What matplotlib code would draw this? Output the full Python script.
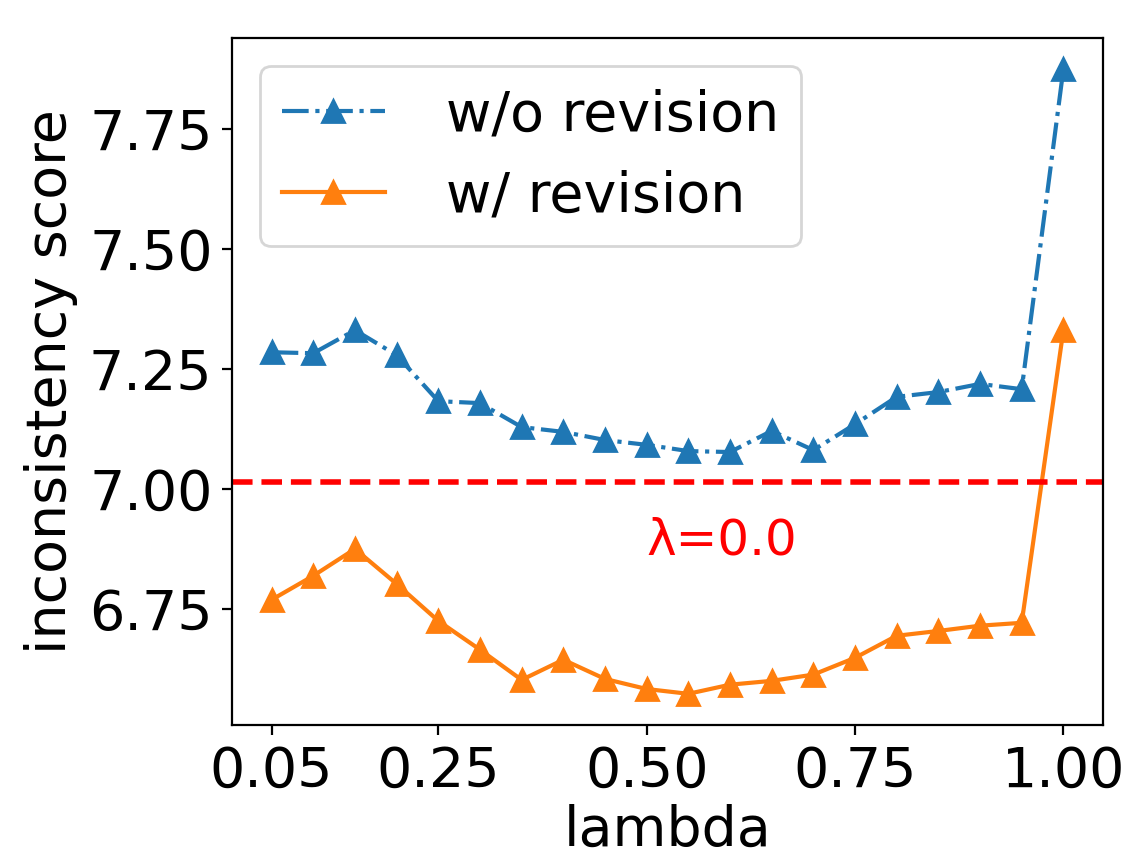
import matplotlib
matplotlib.use('Agg')
from matplotlib import pyplot as plt

lambdas = [0.05, 0.10, 0.15, 0.20, 0.25, 0.30, 0.35, 0.40, 0.45, 0.50,
           0.55, 0.60, 0.65, 0.70, 0.75, 0.80, 0.85, 0.90, 0.95, 1.00]
wo_revision = [7.285, 7.283, 7.331, 7.279, 7.183, 7.179, 7.129, 7.119, 7.102, 7.092,
               7.079, 7.077, 7.121, 7.081, 7.135, 7.192, 7.202, 7.219, 7.208, 7.875]
w_revision = [6.769, 6.819, 6.875, 6.802, 6.725, 6.665, 6.602, 6.644, 6.604, 6.583,
              6.573, 6.592, 6.600, 6.613, 6.648, 6.694, 6.704, 6.715, 6.721, 7.331]
baseline = 7.015  # lambda = 0.0
xticks = [0.05, 0.25, 0.50, 0.75, 1.00]
yticks = [6.75, 7.00, 7.25, 7.50, 7.75]

fig = plt.figure(figsize=(5.64, 4.28), dpi=200)
ax = fig.add_axes([0.2057, 0.153, 0.7721, 0.8026])

ax.plot(lambdas, wo_revision, '-.^', color='#1f77b4', lw=1.5, markersize=8, label='w/o revision')
ax.plot(lambdas, w_revision, '-^', color='#ff7f0e', lw=1.5, markersize=8, label='w/ revision')
ax.axhline(baseline, color='red', ls='--', lw=2)
ax.text(0.5, 6.893, 'λ=0.0', color='red', fontsize=18, ha='left', va='center')

ax.set_xticks(xticks)
ax.set_xticklabels(['%.2f' % v for v in xticks])
ax.set_yticks(yticks)
ax.set_yticklabels(['%.2f' % v for v in yticks])
ax.tick_params(labelsize=20)
ax.set_xlabel('lambda', fontsize=20, labelpad=2)
ax.set_ylabel('inconsistency score', fontsize=20)
ax.legend(loc='upper left', fontsize=20, handlelength=1.85, handletextpad=1.1)

fig.savefig('out.png', dpi=200)
